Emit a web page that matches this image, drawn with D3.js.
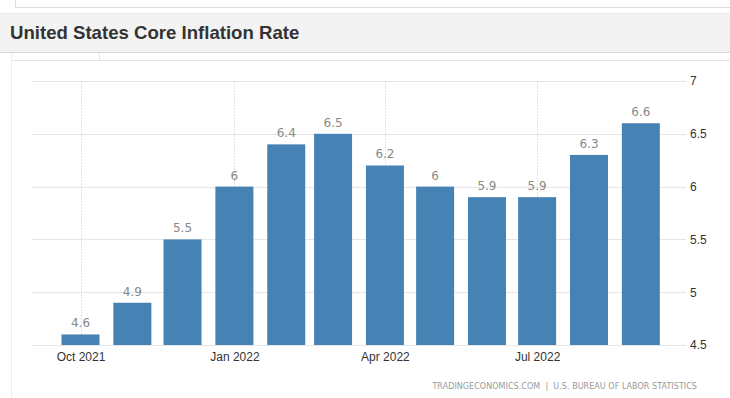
<!DOCTYPE html>
<html>
<head>
<meta charset="utf-8">
<script src="https://cdn.jsdelivr.net/npm/d3@7"></script>
<style>
  body { margin: 0; background: #fff; }
  svg { display: block; font-family: Tahoma, "DejaVu Sans", sans-serif; }
</style>
</head>
<body>
<svg id="chart" width="730" height="398"></svg>
<script>
// monthly core CPI, y/y %
var months = ['2021-10', '2021-11', '2021-12', '2022-01', '2022-02', '2022-03',
              '2022-04', '2022-05', '2022-06', '2022-07', '2022-08', '2022-09'];
var values = [4.6, 4.9, 5.5, 6, 6.4, 6.5, 6.2, 6, 5.9, 5.9, 6.3, 6.6];
var yTicks = [4.5, 5, 5.5, 6, 6.5, 7];
var xTicks = ['2021-10', '2022-01', '2022-04', '2022-07'];

var parseMonth = d3.timeParse('%Y-%m');
var svg = d3.select('#chart');

// page frame bits
svg.append('line').attr('x1', 15).attr('x2', 730).attr('y1', 7.5).attr('y2', 7.5)
  .attr('stroke', '#ddd');
svg.append('line').attr('x1', 15.5).attr('x2', 15.5).attr('y1', 0).attr('y2', 7)
  .attr('stroke', '#ddd');
svg.append('rect').attr('x', 0).attr('y', 13).attr('width', 730).attr('height', 40)
  .attr('fill', '#f3f3f3');
svg.append('line').attr('x1', 0).attr('x2', 730).attr('y1', 13.5).attr('y2', 13.5)
  .attr('stroke', '#e8e8e8');
svg.append('line').attr('x1', 0).attr('x2', 730).attr('y1', 52.5).attr('y2', 52.5)
  .attr('stroke', '#d6d6d6');
svg.append('line').attr('x1', 11).attr('x2', 730).attr('y1', 60.5).attr('y2', 60.5)
  .attr('stroke', '#e2e2e2');
svg.append('line').attr('x1', 11.5).attr('x2', 11.5).attr('y1', 53).attr('y2', 398)
  .attr('stroke', '#eee');
svg.append('line').attr('x1', 99.5).attr('x2', 99.5).attr('y1', 53).attr('y2', 61)
  .attr('stroke', '#e2e2e2');

svg.append('text')
  .attr('x', 10).attr('y', 39)
  .attr('font-family', '"Liberation Sans", Arial, sans-serif')
  .attr('font-size', 18.6).attr('font-weight', 'bold')
  .attr('fill', '#333')
  .text('United States Core Inflation Rate');

var x = d3.scaleTime()
  .domain([new Date(2021, 8, 2), new Date(2022, 8, 28)])
  .range([32, 686]);
var y = d3.scaleLinear().domain([4.5, 7]).range([345, 81]);
var barW = 38;

// horizontal grid + right axis labels
var yAxis = d3.axisRight(y).tickValues(yTicks).tickSize(0).tickPadding(4)
  .tickFormat(d3.format('~g'));
var gy = svg.append('g').attr('transform', 'translate(686,0)').call(yAxis);
gy.select('.domain').remove();
gy.selectAll('text').attr('fill', '#333').attr('font-size', 12);

svg.append('g').selectAll('line').data(yTicks).enter().append('line')
  .attr('x1', 32).attr('x2', 686)
  .attr('y1', function(d) { return Math.round(y(d)) + 0.5; })
  .attr('y2', function(d) { return Math.round(y(d)) + 0.5; })
  .attr('stroke', '#e6e6e6');

// vertical grid at quarter starts
svg.append('g').selectAll('line').data(xTicks).enter().append('line')
  .attr('x1', function(d) { return Math.round(x(parseMonth(d))) + 0.5; })
  .attr('x2', function(d) { return Math.round(x(parseMonth(d))) + 0.5; })
  .attr('y1', 81).attr('y2', 345)
  .attr('stroke', '#e2e2e2').attr('stroke-dasharray', '2,1');

var xAxis = d3.axisBottom(x).tickValues(xTicks.map(parseMonth)).tickSize(0)
  .tickPadding(7).tickFormat(d3.timeFormat('%b %Y'));
var gx = svg.append('g').attr('transform', 'translate(0,345)').call(xAxis);
gx.select('.domain').remove();
gx.selectAll('text').attr('fill', '#333').attr('font-size', 12);

var data = months.map(function(m, i) { return { date: parseMonth(m), value: values[i] }; });

svg.append('g').selectAll('rect').data(data).enter().append('rect')
  .attr('x', function(d) { return x(d.date) - barW / 2; })
  .attr('y', function(d) { return y(d.value); })
  .attr('width', barW)
  .attr('height', function(d) { return y(4.5) - y(d.value); })
  .attr('fill', '#4682b4');

svg.append('g').selectAll('text').data(data).enter().append('text')
  .attr('x', function(d) { return x(d.date); })
  .attr('y', function(d) { return y(d.value) - 7; })
  .attr('text-anchor', 'middle')
  .attr('font-size', 12).attr('fill', '#888')
  .text(function(d) { return d3.format('~g')(d.value); });

svg.append('text')
  .attr('x', 697).attr('y', 389)
  .attr('text-anchor', 'end')
  .attr('font-size', 8).attr('fill', '#999')
  .attr('letter-spacing', 0.05)
  .attr('xml:space', 'preserve')
  .text('TRADINGECONOMICS.COM  |  U.S. BUREAU OF LABOR STATISTICS');
</script>
</body>
</html>
